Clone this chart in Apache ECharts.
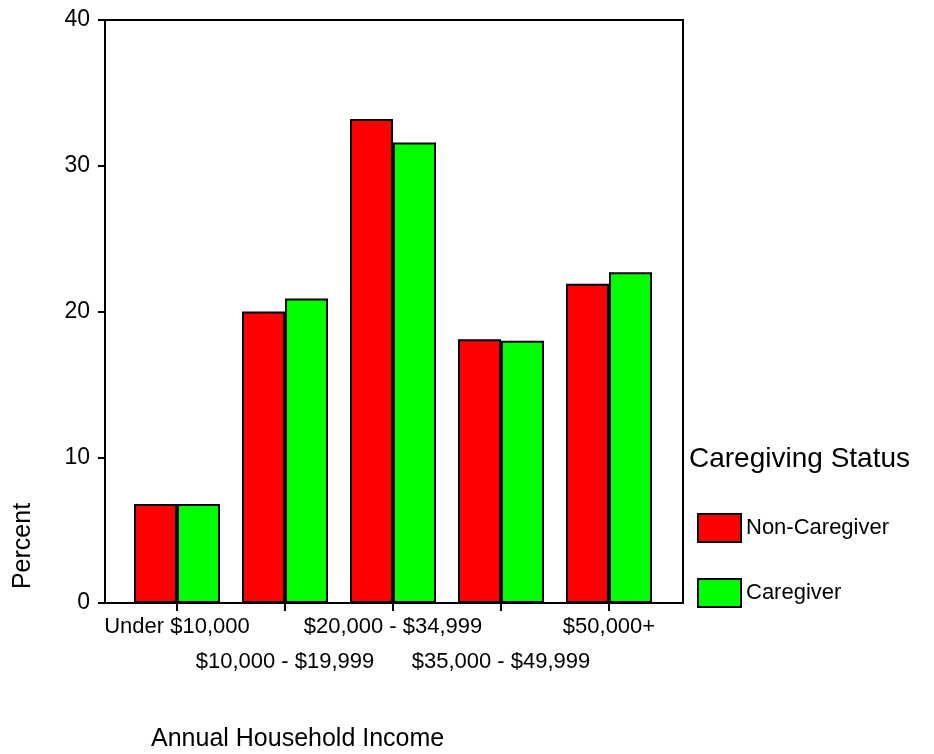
<!DOCTYPE html>
<html>
<head>
<meta charset="utf-8">
<script src="https://cdn.jsdelivr.net/npm/echarts@6/dist/echarts.min.js"></script>
<style>
    html, body { margin: 0; padding: 0; background: #fff; }
    #chart { width: 934px; height: 754px; }
</style>
</head>
<body>
<div id="chart"></div>
<script>
var incomeLevels = ['Under $10,000', '$10,000 - $19,999', '$20,000 - $34,999', '$35,000 - $49,999', '$50,000+'];
var nonCaregiver = [6.8, 20.0, 33.2, 18.1, 21.9];
var caregiver = [6.8, 20.9, 31.6, 18.0, 22.7];
var yTicks = [0, 10, 20, 30, 40];

var font = 'Liberation Sans, Arial, sans-serif';
var chart = echarts.init(document.getElementById('chart'));

chart.setOption({
    animation: false,
    backgroundColor: '#fff',
    textStyle: { fontFamily: font, color: '#000' },
    title: [
        {
            text: 'Caregiving Status',
            left: 689, top: 445,
            padding: 0,
            textStyle: { fontSize: 28, fontWeight: 'normal', color: '#000', fontFamily: font }
        },
        {
            text: 'Annual Household Income',
            left: 151, top: 727,
            padding: 0,
            textStyle: { fontSize: 25, fontWeight: 'normal', color: '#000', fontFamily: font }
        }
    ],
    legend: {
        orient: 'vertical',
        left: 697, top: 513,
        padding: 0,
        itemWidth: 43, itemHeight: 28,
        itemGap: 35,
        icon: 'rect',
        textStyle: { fontSize: 22, color: '#000', fontFamily: font },
        data: ['Non-Caregiver', 'Caregiver']
    },
    graphic: [{
        type: 'text',
        x: 23, y: 546,
        rotation: Math.PI / 2,
        style: {
            text: 'Percent',
            font: '25px ' + font,
            fill: '#000',
            textAlign: 'center',
            textVerticalAlign: 'middle'
        }
    }],
    grid: [
        // frame
        { left: 105, top: 20, right: 251, bottom: 151, show: true, borderColor: '#000', borderWidth: 2, backgroundColor: 'transparent' },
        // bars, inset so categories sit like the original
        { left: 123, top: 20, right: 271, bottom: 151 }
    ],
    xAxis: [
        { gridIndex: 0, type: 'value', show: false, min: 0, max: 1 },
        {
            gridIndex: 1,
            type: 'category',
            data: incomeLevels,
            axisLine: { show: false },
            axisTick: { show: true, alignWithLabel: true, length: 8, lineStyle: { color: '#000', width: 2 } },
            axisLabel: {
                interval: 0,
                margin: 6,
                fontSize: 22,
                lineHeight: 35,
                color: '#000',
                formatter: function (value, idx) {
                    return idx % 2 === 1 ? '\n' + value : value;
                }
            }
        }
    ],
    yAxis: [
        {
            gridIndex: 0,
            type: 'value',
            min: yTicks[0], max: yTicks[yTicks.length - 1], interval: 10,
            splitLine: { show: false },
            axisLine: { show: true, lineStyle: { color: '#000', width: 2 } },
            axisTick: { show: true, length: 7, lineStyle: { color: '#000', width: 2 } },
            axisLabel: { fontSize: 23, color: '#000', margin: 15 }
        },
        {
            gridIndex: 1,
            type: 'value',
            min: 0, max: 40,
            show: false
        }
    ],
    series: [
        {
            name: 'Non-Caregiver',
            type: 'bar',
            xAxisIndex: 1, yAxisIndex: 1,
            barWidth: 43,
            barGap: '0%',
            itemStyle: { color: '#ff0000', borderColor: '#000', borderWidth: 2 },
            data: nonCaregiver
        },
        {
            name: 'Caregiver',
            type: 'bar',
            xAxisIndex: 1, yAxisIndex: 1,
            barWidth: 43,
            barGap: '0%',
            itemStyle: { color: '#00ff00', borderColor: '#000', borderWidth: 2 },
            data: caregiver
        }
    ]
});
</script>
</body>
</html>
